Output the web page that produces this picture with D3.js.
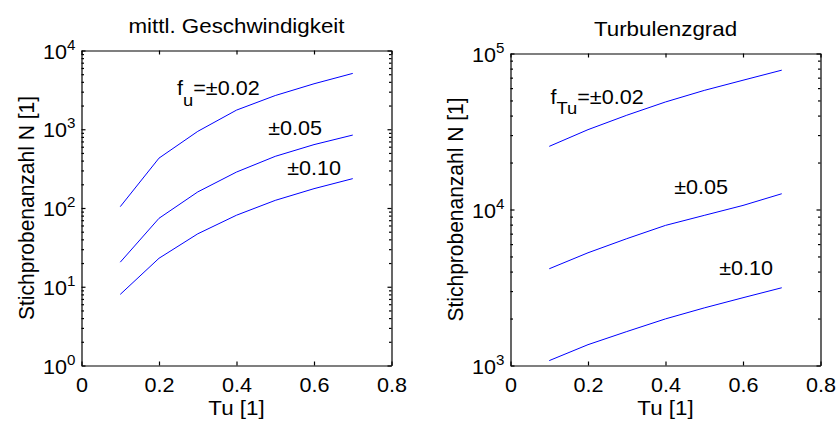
<!DOCTYPE html>
<html>
<head>
<meta charset="utf-8">
<script src="https://cdn.jsdelivr.net/npm/d3@7"></script>
<style>
  body { margin: 0; background: #fff; }
  text { font-family: "Liberation Sans", Arial, Helvetica, sans-serif; fill: #000; }
</style>
</head>
<body>
<svg id="chart" width="837" height="422"></svg>
<script>
// Turbulence intensity values at which the sample sizes were evaluated
const tu = [0.1, 0.2, 0.3, 0.4, 0.5, 0.6, 0.7];
const xTicks = [0, 0.2, 0.4, 0.6, 0.8];

// Required sample count for the mean velocity, per relative error bound
const velN002 = [104, 430, 940, 1750, 2680, 3780, 5120];
const velN005 = [20.5, 74, 160, 286, 453, 638, 844];
const velN010 = [8, 23, 47, 81, 125, 176, 236];
const velDecades = [1, 10, 100, 1000, 10000];

// Required sample count for the turbulence intensity
const turbN002 = [25400, 32500, 40200, 48900, 58000, 67400, 78200];
const turbN005 = [4170, 5280, 6500, 7910, 9170, 10620, 12620];
const turbN010 = [1075, 1360, 1650, 1990, 2340, 2720, 3150];
const turbDecades = [1000, 10000, 100000];

// Curve labels: prefix, subscript, rest, anchored at (tu, N)
const velNotes = [
  { pre: "f", sub: "u", rest: "=±0.02", tu: 0.2465, n: 2683 },
  { pre: "", sub: "", rest: "±0.05", tu: 0.482, n: 851 },
  { pre: "", sub: "", rest: "±0.10", tu: 0.531, n: 259 }
];
const turbNotes = [
  { pre: "f", sub: "Tu", rest: "=±0.02", tu: 0.1032, n: 47700 },
  { pre: "", sub: "", rest: "±0.05", tu: 0.4225, n: 12640 },
  { pre: "", sub: "", rest: "±0.10", tu: 0.5386, n: 3780 }
];

const svg = d3.select("#chart");
svg.append("rect").attr("width", 837).attr("height", 422).attr("fill", "#fff");

const FS = 20;          // tick and annotation font size
const FL = 20.7;        // title / axis label font size
const SX = "scale(1.08,1)"; // slightly wide glyphs

// text placed at (x,y) with the wide-glyph stretch
function label(parent, x, y, size, anchor) {
  return parent.append("g").attr("transform", `translate(${x},${y})`)
    .append("text").attr("transform", SX).attr("font-size", size)
    .attr("text-anchor", anchor || "start");
}

function minorTicks(decades) {
  const out = [];
  for (let i = 0; i < decades.length - 1; i++)
    for (let k = 2; k <= 9; k++) out.push(decades[i] * k);
  return out;
}

function panel(cfg) {
  const x = d3.scaleLinear().domain([0, 0.8]).range([cfg.left, cfg.right]);
  const y = d3.scaleLog().domain([cfg.decades[0], cfg.decades[cfg.decades.length - 1]])
    .range([cfg.bottom, cfg.top]);
  const g = svg.append("g");

  // bottom axis with labels, ticks pointing inward
  const xb = g.append("g").attr("transform", `translate(0,${cfg.bottom})`)
    .call(d3.axisBottom(x).tickValues(xTicks).tickSizeInner(-4).tickSizeOuter(0)
      .tickPadding(12).tickFormat(d3.format("~g")));
  xb.selectAll("text").attr("font-size", FS).attr("font-family", null).attr("transform", SX);
  // top axis (ticks only)
  g.append("g").attr("transform", `translate(0,${cfg.top})`)
    .call(d3.axisTop(x).tickValues(xTicks).tickSizeInner(-4).tickSizeOuter(0).tickFormat(""));

  // left / right axes: major and minor decade ticks
  g.append("g").attr("transform", `translate(${cfg.left},0)`)
    .call(d3.axisLeft(y).tickValues(cfg.decades).tickSizeInner(-4).tickSizeOuter(0).tickFormat(""));
  g.append("g").attr("transform", `translate(${cfg.left},0)`)
    .call(d3.axisLeft(y).tickValues(minorTicks(cfg.decades)).tickSizeInner(-2.5).tickSizeOuter(0).tickFormat(""))
    .select(".domain").remove();
  g.append("g").attr("transform", `translate(${cfg.right},0)`)
    .call(d3.axisRight(y).tickValues(cfg.decades).tickSizeInner(-4).tickSizeOuter(0).tickFormat(""));
  g.append("g").attr("transform", `translate(${cfg.right},0)`)
    .call(d3.axisRight(y).tickValues(minorTicks(cfg.decades)).tickSizeInner(-2.5).tickSizeOuter(0).tickFormat(""))
    .select(".domain").remove();
  g.selectAll(".domain, .tick line").attr("stroke", "#000").attr("stroke-width", 1.2);

  // decade labels as 10^k
  cfg.decades.forEach(d => {
    const t = label(g, cfg.left - 6, y(d) + 8, FS, "end");
    t.append("tspan").text("10");
    t.append("tspan").attr("dy", -9).attr("font-size", 14).text(Math.round(Math.log10(d)));
  });

  // curves
  const line = d3.line().x((d, i) => x(tu[i])).y(d => y(d));
  cfg.series.forEach(s => {
    g.append("path").datum(s).attr("d", line)
      .attr("fill", "none").attr("stroke", "#0000ff").attr("stroke-width", 1);
  });

  // curve labels
  cfg.notes.forEach(n => {
    const t = label(g, x(n.tu), y(n.n), FS);
    if (n.pre) {
      t.append("tspan").text(n.pre);
      t.append("tspan").attr("dy", 10).attr("font-size", 17).text(n.sub);
      t.append("tspan").attr("dy", -10).text(n.rest);
    } else {
      t.append("tspan").text(n.rest);
    }
  });

  // titles and axis labels
  const cx = (cfg.left + cfg.right) / 2;
  label(g, cx, cfg.top - 18, FL, "middle").text(cfg.title);
  label(g, cx, 414.5, FL, "middle").text("Tu [1]");
  g.append("text")
    .attr("transform", `translate(${cfg.left - 48},${(cfg.top + cfg.bottom) / 2}) rotate(-90) scale(1,1.08)`)
    .attr("text-anchor", "middle").attr("font-size", 21).text("Stichprobenanzahl N [1]");
}

panel({
  left: 81.5, right: 391.5, top: 50.5, bottom: 365.5,
  decades: velDecades, series: [velN002, velN005, velN010], notes: velNotes,
  title: "mittl. Geschwindigkeit"
});
panel({
  left: 510.5, right: 820.5, top: 53.5, bottom: 365.5,
  decades: turbDecades, series: [turbN002, turbN005, turbN010], notes: turbNotes,
  title: "Turbulenzgrad"
});
</script>
</body>
</html>
